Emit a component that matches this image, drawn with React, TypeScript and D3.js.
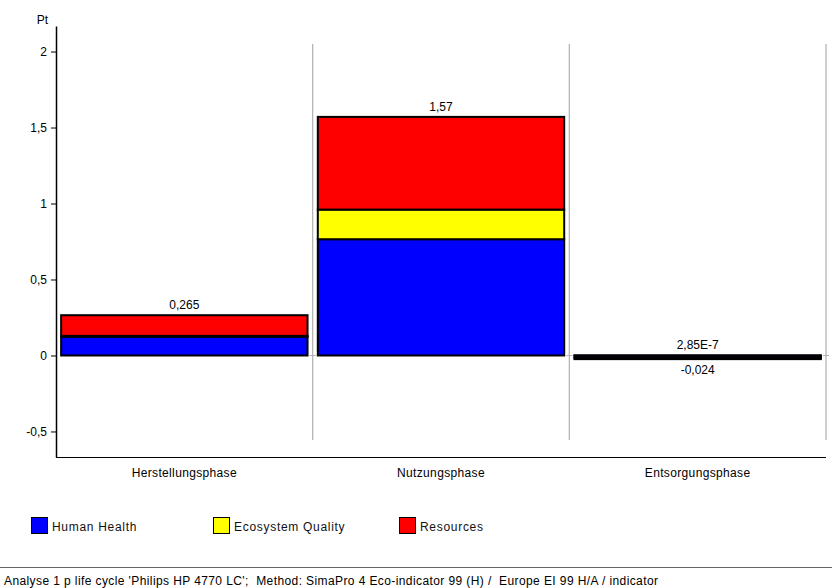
import React, { useEffect, useRef } from 'react';
import * as d3 from 'd3';

const phases = ['Herstellungsphase', 'Nutzungsphase', 'Entsorgungsphase'];
const humanHealth = [0.123, 0.765, -0.015];
const ecosystemQuality = [0.006, 0.195, 2.85e-7];
const resources = [0.136, 0.61, -0.009];
const positiveLabels = ['0,265', '1,57', '2,85E-7'];
const negativeLabels = ['', '', '-0,024'];
const yTicks = [-0.5, 0, 0.5, 1, 1.5, 2];

const SERIES = [
  { key: 'hh', name: 'Human Health', color: '#0000ff', values: humanHealth },
  { key: 'eq', name: 'Ecosystem Quality', color: '#ffff00', values: ecosystemQuality },
  { key: 'res', name: 'Resources', color: '#ff0000', values: resources }
];

const FOOTER =
  "Analyse 1 p life cycle 'Philips HP 4770 LC';  Method: SimaPro 4 Eco-indicator 99 (H) /  Europe EI 99 H/A / indicator";

const FONT = '"Liberation Sans", Arial, sans-serif';

const App: React.FC = () => {
  const svgRef = useRef<SVGSVGElement>(null);

  useEffect(() => {
    if (!svgRef.current) return;
    const svg = d3.select(svgRef.current);
    svg.selectAll('*').remove();

    const width = 832;
    const height = 588;
    const left = 56;
    const right = 826;
    const top = 26;
    const bottom = 457;

    const y = d3.scaleLinear().domain([-0.668, 2.168]).range([bottom, top]);
    const band = d3.scaleBand<string>().domain(phases).range([left, right]);
    const x = d3
      .scaleBand<string>()
      .domain(phases)
      .range([left, right])
      .paddingInner(0.04)
      .paddingOuter(0.02);

    svg.attr('width', width).attr('height', height).style('font-family', FONT);
    svg.append('rect').attr('width', width).attr('height', height).attr('fill', '#fff');

    // separators
    phases.forEach((p) => {
      const sx = (band(p) ?? 0) + band.step();
      svg
        .append('line')
        .attr('x1', sx)
        .attr('x2', sx)
        .attr('y1', y(2.05))
        .attr('y2', y(-0.556))
        .attr('stroke', '#b0b0b0')
        .attr('stroke-width', 1.2);
      svg
        .append('line')
        .attr('x1', sx - 3)
        .attr('x2', sx + 3)
        .attr('y1', y(0))
        .attr('y2', y(0))
        .attr('stroke', '#b0b0b0');
    });

    // bottom axis line
    svg
      .append('line')
      .attr('x1', left)
      .attr('x2', right)
      .attr('y1', bottom + 0.5)
      .attr('y2', bottom + 0.5)
      .attr('stroke', '#000')
      .attr('stroke-width', 1);

    // stacked bars
    const rows = phases.map((p, i) => {
      const r: Record<string, any> = { phase: p };
      SERIES.forEach((s) => (r[s.key] = s.values[i]));
      return r;
    });
    const stacked = d3
      .stack<Record<string, any>>()
      .keys(SERIES.map((s) => s.key))
      .offset(d3.stackOffsetDiverging)(rows);

    stacked.forEach((layer, li) => {
      svg
        .append('g')
        .selectAll('rect')
        .data(layer)
        .enter()
        .append('rect')
        .attr('x', (d) => x(d.data.phase) ?? 0)
        .attr('width', x.bandwidth())
        .attr('y', (d) => y(Math.max(d[0], d[1])))
        .attr('height', (d) => Math.abs(y(d[0]) - y(d[1])))
        .attr('fill', SERIES[li].color)
        .attr('stroke', '#000')
        .attr('stroke-width', 2);
    });

    // total labels
    phases.forEach((p, i) => {
      const pos = SERIES.reduce((a, s) => a + Math.max(0, s.values[i]), 0);
      const neg = SERIES.reduce((a, s) => a + Math.min(0, s.values[i]), 0);
      const cx = (x(p) ?? 0) + x.bandwidth() / 2;
      svg
        .append('text')
        .attr('x', cx)
        .attr('y', y(pos) - 6)
        .attr('text-anchor', 'middle')
        .attr('font-size', 12)
        .text(positiveLabels[i]);
      if (negativeLabels[i]) {
        svg
          .append('text')
          .attr('x', cx)
          .attr('y', y(neg) + 15)
          .attr('text-anchor', 'middle')
          .attr('font-size', 12)
          .text(negativeLabels[i]);
      }
      svg
        .append('text')
        .attr('x', (band(p) ?? 0) + band.bandwidth() / 2)
        .attr('y', bottom + 20)
        .attr('text-anchor', 'middle')
        .attr('font-size', 12)
        .attr('letter-spacing', 0.35)
        .text(p);
    });

    // y axis
    const yAxis = d3
      .axisLeft(y)
      .tickValues(yTicks)
      .tickSizeInner(5)
      .tickSizeOuter(0)
      .tickPadding(4)
      .tickFormat((d) => String(d).replace('.', ','));
    const ga = svg.append('g').attr('transform', `translate(${left},0)`).call(yAxis);
    ga.selectAll('text').attr('font-size', 12).attr('font-family', FONT).attr('fill', '#000');
    ga.select('.domain').attr('stroke-width', 1.5);

    svg
      .append('text')
      .attr('x', 48)
      .attr('y', 24)
      .attr('text-anchor', 'end')
      .attr('font-size', 12)
      .text('Pt');

    // legend
    const legendX = [31, 213, 399];
    SERIES.forEach((s, i) => {
      const g = svg.append('g').attr('transform', `translate(${legendX[i]},517)`);
      g.append('rect')
        .attr('x', 0.5)
        .attr('y', 0.5)
        .attr('width', 16)
        .attr('height', 16)
        .attr('fill', s.color)
        .attr('stroke', '#000');
      g.append('text')
        .attr('x', 21)
        .attr('y', 14)
        .attr('font-size', 12)
        .attr('letter-spacing', 0.7)
        .attr('fill', '#111')
        .text(s.name);
    });

    // footer
    svg
      .append('line')
      .attr('x1', 0)
      .attr('x2', width)
      .attr('y1', 567.5)
      .attr('y2', 567.5)
      .attr('stroke', '#666');
    svg
      .append('text')
      .attr('x', 4)
      .attr('y', 585)
      .attr('font-size', 12)
      .attr('letter-spacing', 0.4)
      .style('white-space', 'pre')
      .text(FOOTER);
  }, []);

  return (
    <div style={{ position: 'absolute', left: 0, top: 0 }}>
      <svg ref={svgRef} style={{ display: 'block' }} />
    </div>
  );
};

export default App;
